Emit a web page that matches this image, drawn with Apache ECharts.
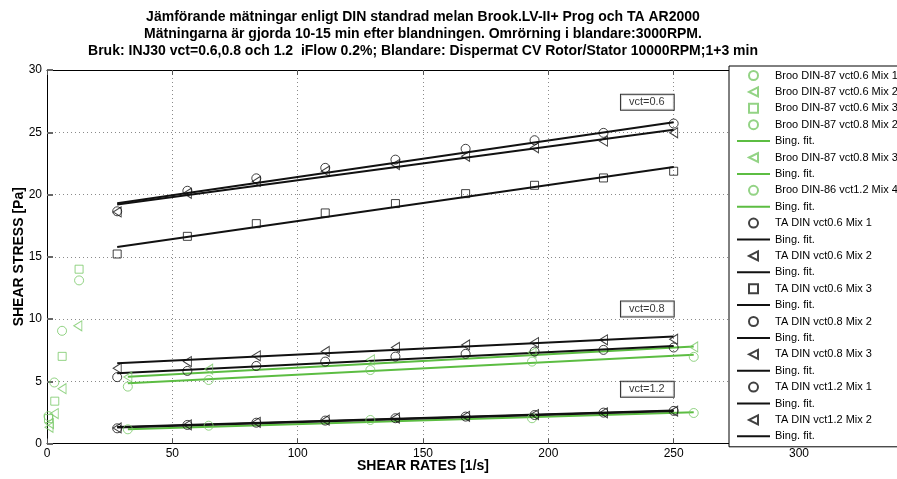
<!DOCTYPE html>
<html><head><meta charset="utf-8">
<script src="https://cdn.jsdelivr.net/npm/echarts@6/dist/echarts.min.js"></script>
<style>html,body{margin:0;padding:0;background:#fff}#c{width:897px;height:479px}</style>
</head><body><div id="c"></div>
<script>
// ---------- DATA ----------
const titleLines = [
  'Jämförande mätningar enligt DIN standrad melan Brook.LV-II+ Prog och TA AR2000',
  'Mätningarna är gjorda 10-15 min efter blandningen. Omrörning i blandare:3000RPM.',
  'Bruk: INJ30 vct=0.6,0.8 och 1.2  iFlow 0.2%; Blandare: Dispermat CV Rotor/Stator 10000RPM;1+3 min'
];
const xAxisName = 'SHEAR RATES [1/s]';
const yAxisName = 'SHEAR STRESS [Pa]';
const vctLabels = ['vct=0.6', 'vct=0.8', 'vct=1.2'];

// Brookfield vct0.6 (low shear-rate readings)
const broo06m1X = [0.6, 2.9, 6.0, 12.8];
const broo06m1Y = [2.2, 4.9, 9.05, 13.1];
const broo06m2X = [0.8, 1.0, 2.9, 6.0, 12.3];
const broo06m2Y = [1.3, 1.6, 2.4, 4.4, 9.45];
const broo06m3X = [0.6, 3.1, 6.05, 12.8];
const broo06m3Y = [2.0, 3.4, 7.0, 14.0];

// Brookfield vct0.8 / 1.2
const brooRates = [32.25, 64.5, 129, 193.5, 258];
const broo08m2Y = [4.57, 5.1, 5.9, 6.58, 6.96];
const broo08m3Y = [5.35, 5.97, 6.72, 7.3, 7.76];
const broo12m4Y = [1.14, 1.43, 1.89, 2.03, 2.45];
const brooFitX = [32.25, 258];
const broo08m2FitY = [4.84, 7.12];
const broo08m3FitY = [5.37, 7.79];
const broo12m4FitY = [1.15, 2.52];

// TA AR2000
const taRates = [28, 56, 83.5, 111, 139, 167, 194.5, 222, 250];
const ta06m1Y = [18.65, 20.3, 21.3, 22.14, 22.8, 23.67, 24.36, 24.95, 25.7];
const ta06m2Y = [18.6, 20.1, 21.05, 21.87, 22.4, 23.07, 23.75, 24.28, 24.95];
const ta06m3Y = [15.22, 16.64, 17.66, 18.52, 19.27, 20.07, 20.74, 21.33, 21.87];
const ta08m2Y = [5.33, 5.83, 6.23, 6.58, 6.98, 7.2, 7.39, 7.52, 7.71];
const ta08m3Y = [6.05, 6.58, 7.04, 7.39, 7.72, 7.92, 8.11, 8.33, 8.38];
const ta12m1Y = [1.22, 1.49, 1.67, 1.84, 2.03, 2.16, 2.29, 2.48, 2.62];
const ta12m2Y = [1.25, 1.5, 1.7, 1.87, 2.05, 2.18, 2.32, 2.46, 2.6];
const taFitX = [28, 250];
const ta06m1FitY = [19.3, 25.8];
const ta06m2FitY = [19.2, 25.2];
const ta06m3FitY = [15.78, 22.2];
const ta08m2FitY = [5.65, 7.84];
const ta08m3FitY = [6.45, 8.59];
const ta12m1FitY = [1.32, 2.66];
const ta12m2FitY = [1.28, 2.62];

// ---------- BUILD ----------
const GREEN_LINE = '#5cbd42';
const GREEN_MK = '#78c866';
const BLACK = '#111';
const TRI = 'path://M0,5L10,0L10,10Z';
const SQR = 'path://M0,0L10,0L10,10L0,10Z';
const LINE_ICON = 'path://M0,0L33,0L33,2L0,2Z';
const FONT = '"Liberation Sans", Arial, Helvetica, sans-serif';

const zip = (xs, ys) => xs.map((x, i) => [x, ys[i]]);
function pts(name, xs, ys, symbol, color) {
  return {
    type: 'scatter', name, data: zip(xs, ys), symbol,
    symbolSize: symbol === SQR ? 8 : (symbol === TRI ? [8, 10] : 9),
    itemStyle: { color: 'rgba(255,255,255,0)', borderColor: color, borderWidth: 1 },
    z: 3, silent: true
  };
}
function fit(name, xs, ys, color) {
  return {
    type: 'line', name, data: zip(xs, ys), symbol: 'none', showSymbol: false,
    lineStyle: { color, width: 2 }, itemStyle: { color }, z: 2, silent: true
  };
}

const seriesList = [
  pts('Broo DIN-87 vct0.6 Mix 1', broo06m1X, broo06m1Y, 'circle', GREEN_MK),
  pts('Broo DIN-87 vct0.6 Mix 2', broo06m2X, broo06m2Y, TRI, GREEN_MK),
  pts('Broo DIN-87 vct0.6 Mix 3', broo06m3X, broo06m3Y, SQR, GREEN_MK),
  pts('Broo DIN-87 vct0.8 Mix 2', brooRates, broo08m2Y, 'circle', GREEN_MK),
  fit('Bing. fit. #1', brooFitX, broo08m2FitY, GREEN_LINE),
  pts('Broo DIN-87 vct0.8 Mix 3', brooRates, broo08m3Y, TRI, GREEN_MK),
  fit('Bing. fit. #2', brooFitX, broo08m3FitY, GREEN_LINE),
  pts('Broo DIN-86 vct1.2 Mix 4', brooRates, broo12m4Y, 'circle', GREEN_MK),
  fit('Bing. fit. #3', brooFitX, broo12m4FitY, GREEN_LINE),
  pts('TA DIN vct0.6 Mix 1', taRates, ta06m1Y, 'circle', BLACK),
  fit('Bing. fit. #4', taFitX, ta06m1FitY, BLACK),
  pts('TA DIN vct0.6 Mix 2', taRates, ta06m2Y, TRI, BLACK),
  fit('Bing. fit. #5', taFitX, ta06m2FitY, BLACK),
  pts('TA DIN vct0.6 Mix 3', taRates, ta06m3Y, SQR, BLACK),
  fit('Bing. fit. #6', taFitX, ta06m3FitY, BLACK),
  pts('TA DIN vct0.8 Mix 2', taRates, ta08m2Y, 'circle', BLACK),
  fit('Bing. fit. #7', taFitX, ta08m2FitY, BLACK),
  pts('TA DIN vct0.8 Mix 3', taRates, ta08m3Y, TRI, BLACK),
  fit('Bing. fit. #8', taFitX, ta08m3FitY, BLACK),
  pts('TA DIN vct1.2 Mix 1', taRates, ta12m1Y, 'circle', BLACK),
  fit('Bing. fit. #9', taFitX, ta12m1FitY, BLACK),
  pts('TA DIN vct1.2 Mix 2', taRates, ta12m2Y, TRI, BLACK),
  fit('Bing. fit. #10', taFitX, ta12m2FitY, BLACK)
];
const legendData = seriesList.map(s => s.type === 'line'
  ? { name: s.name, icon: LINE_ICON }
  : { name: s.name });

// annotation boxes (anchored in data coordinates)
const labelAnchors = [[239.5, 27.4], [239.5, 10.8], [239.5, 4.35]];
seriesList.push({
  type: 'scatter', name: 'labels', symbolSize: 0, z: 10, silent: true,
  data: vctLabels.map((t, i) => ({ name: t, value: labelAnchors[i] })),
  label: {
    show: true, position: 'inside', formatter: p => p.name,
    color: '#000', fontSize: 11, fontFamily: FONT,
    backgroundColor: '#fff', borderColor: '#000', borderWidth: 1, padding: [2, 9, 2, 8]
  }
});

const chart = echarts.init(document.getElementById('c'), null, { renderer: 'canvas' });
const gridStyle = { show: true, lineStyle: { color: '#8a8a8a', type: [1, 3], width: 1 } };
chart.setOption({
  animation: false,
  backgroundColor: '#fff',
  textStyle: { fontFamily: FONT },
  graphic: [{
    type: 'text', x: 423, y: 9, z: 100,
    style: {
      text: titleLines.join('\n'), align: 'center', textAlign: 'center', verticalAlign: 'top',
      font: 'bold 14px ' + FONT, lineHeight: 17, fill: '#000'
    }
  }],
  grid: { left: 47, top: 70, width: 752, height: 373.5, containLabel: false, outerBoundsMode: 'none' },
  xAxis: [{
    type: 'value', min: 0, max: 300, interval: 50,
    name: xAxisName, nameLocation: 'middle', nameGap: 16, nameMoveOverlap: false,
    nameTextStyle: { fontSize: 14, fontWeight: 'bold', color: '#000', fontFamily: FONT },
    axisLine: { show: true, lineStyle: { color: '#000', width: 1 } },
    axisTick: { show: true, inside: true, length: 5, lineStyle: { color: '#555' } },
    axisLabel: { color: '#000', fontSize: 12, margin: 4, fontFamily: FONT },
    splitLine: gridStyle
  }, {
    type: 'value', min: 0, max: 300, interval: 50, position: 'top',
    axisLine: { show: true, onZero: false, lineStyle: { color: '#000', width: 1 } },
    axisTick: { show: true, inside: true, length: 5, lineStyle: { color: '#555' } },
    axisLabel: { show: false }, splitLine: { show: false }
  }],
  yAxis: [{
    type: 'value', min: 0, max: 30, interval: 5,
    name: yAxisName, nameLocation: 'middle', nameGap: 21, nameMoveOverlap: false,
    nameTextStyle: { fontSize: 14, fontWeight: 'bold', color: '#000', fontFamily: FONT },
    axisLine: { show: true, lineStyle: { color: '#000', width: 1 } },
    axisTick: { show: true, inside: true, length: 6, lineStyle: { color: '#666', width: 2 } },
    axisLabel: { color: '#000', fontSize: 12, margin: 5, fontFamily: FONT },
    splitLine: gridStyle
  }],
  legend: {
    type: 'plain', orient: 'vertical', left: 729, top: 66,
    data: legendData,
    formatter: n => n.startsWith('Bing. fit.') ? 'Bing. fit.' : n,
    itemWidth: 33, itemHeight: 9, itemGap: 5.4,
    padding: [4, 40, 5, 8],
    backgroundColor: '#fff', borderColor: '#000', borderWidth: 1,
    textStyle: { fontSize: 11, color: '#000', fontFamily: FONT },
    selectedMode: false, z: 20
  },
  series: seriesList
});
</script></body></html>
